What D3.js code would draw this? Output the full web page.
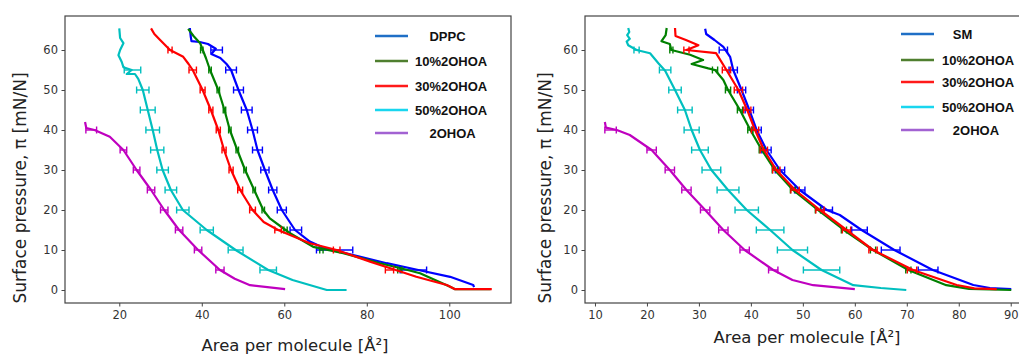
<!DOCTYPE html>
<html>
<head>
<meta charset="utf-8">
<script src="https://cdn.jsdelivr.net/npm/d3@7"></script>
<style>
  body { margin: 0; background: #fff; }
  text { font-family: "DejaVu Sans", sans-serif; }
</style>
</head>
<body>
<div id="chart"></div>
<script>
// ---- data: curves are [area, pi], error bars are [pi, area, halfwidth] ----
const legendLeft  = ['    DPPC', '10%2OHOA', '30%2OHOA', '50%2OHOA', '    2OHOA']
const legendRight = ['   SM', '10%2OHOA', '30%2OHOA', '50%2OHOA', '   2OHOA']

const xTicksLeft  = [20, 40, 60, 80, 100]
const xTicksRight = [10, 20, 30, 40, 50, 60, 70, 80, 90]
const yTicks = [0, 10, 20, 30, 40, 50, 60]

const dppcCurve = [[37.1,65.5],[37.3,63.5],[37.5,62.2],[39.5,62],[41.5,61.5],[43.4,60.3],[42.3,59],[44.5,58],[46,56.5],[47.1,55],[48.9,50],[50.9,45],[52.3,40],[53.5,35],[55.3,30],[57.2,25],[59.4,20],[62.6,15],[66.2,12.1],[69.9,10.4],[76.7,8.75],[84.8,6.7],[92.5,5],[100.2,3.3],[105.8,1.25],[106,0.7]]
const dppc10Curve = [[36.7,65.3],[38,63.5],[39.6,61.7],[41,58],[42,55],[44,50],[45.5,45],[46.8,40],[48.6,35],[50.5,30],[52.7,25],[54.9,20],[56.5,17.9],[60.3,15],[61.4,14.2],[67,10.8],[74.3,9.2],[83.2,6.7],[88,5.5],[92.9,4.2],[100.2,0.8],[101.4,0.2],[110,0.2]]
const dppc30Curve = [[27.7,65.4],[28.5,64],[29.9,62.5],[32.3,60],[35.5,58.3],[36.8,56.5],[37.8,55],[40.2,50],[42.2,45],[44,40],[45.4,35],[47.1,30],[49.3,25],[52.3,20],[55,17],[58.5,15],[61.4,13.75],[66.2,11.7],[72.7,10],[80.8,7.1],[87,5],[92,3.3],[99.4,1.25],[101.4,0.2],[110.3,0.2]]
const dppc50Curve = [[20,65.4],[20.2,63],[21,61.7],[20.2,60],[19.8,58.7],[20.6,57],[21,55.7],[23,55],[21.8,54],[23.8,54],[24.6,52.8],[25.7,50],[26.9,45],[28.1,40],[29.2,35],[30.5,30],[32.5,25],[35.4,20],[41.2,15],[48.2,10],[56.1,5],[62,2.5],[70.3,0],[75.1,0]]
const ohoaCurveL = [[11.7,42],[12,40.5],[14,40],[17.7,38.3],[21,35],[24.2,30],[27.7,25],[30.9,20],[34.5,15],[39.1,10],[44.4,5],[48,2.8],[51.7,1.2],[60.2,0.2]]

const dppcErr = [[60,43.6,1.4],[55,47.1,1.3],[50,48.9,1.2],[45,50.9,1.3],[40,52.3,1.2],[35,53.5,1.2],[30,55.3,1],[25,57.2,1],[20,59.4,1.1],[15,62.8,1.4],[10,72.2,4.4],[5,91.3,3.2]]
const dppc10Err = [[60,40,0.3],[55,42,0.3],[50,44,0.3],[45,45.5,0.3],[40,46.8,0.3],[35,48.6,0.3],[30,50.5,0.3],[25,52.7,0.3],[20,54.9,0.3],[15,60.3,0.4],[10,69,0.4],[5,88,0.5]]
const dppc30Err = [[60,32.3,0.5],[55,37.8,0.9],[50,40.2,0.6],[45,42.2,0.5],[40,44,0.5],[35,45.4,0.5],[30,47.1,0.5],[25,49.3,0.6],[20,52.3,0.7],[15,58.5,0.8],[10,72.7,0.8],[5,85.5,1]]
const dppc50Err = [[55,23.2,2],[50,25.7,1.5],[45,26.9,1.8],[40,28.1,1.65],[35,29.2,1.6],[30,30.5,1.4],[25,32.5,1.4],[20,35.4,1.5],[15,41.2,1.6],[10,48.2,1.8],[5,56.1,2]]
const ohoaErrL = [[40,13.2,1.3],[35,21,0.8],[30,24.2,0.8],[25,27.7,0.9],[20,30.9,0.9],[15,34.5,0.9],[10,39.1,0.9],[5,44.4,1]]

const smCurve = [[31.2,65.3],[31.4,64],[33,62.5],[34.7,60.8],[36,58.3],[36.6,55],[38.2,50],[39.7,45],[41.1,40],[43,35],[45.6,30],[49.4,25],[54.6,20],[57.1,18.75],[61.3,15],[67.6,10],[75,5],[82.8,1.25],[86,0.5],[90.1,0.2]]
const sm10Curve = [[23.8,65.5],[23.6,63.7],[22.8,62.2],[24.4,61.5],[24.7,60],[28.3,58.8],[30.8,57.5],[28.6,56.5],[31.8,55.4],[33.1,55],[34.7,52.5],[35.6,50],[37.9,45],[39.9,40],[42.1,35],[44.6,30],[48.1,25],[52.9,20],[57.9,15],[63.5,10],[70.3,5],[77.6,1.2],[82,0.3],[90.1,0]]
const sm30Curve = [[25.4,65.5],[25.5,63.5],[27.5,62.5],[29.9,61.2],[27.6,60],[33.3,59.2],[35.3,55],[37.6,50],[39.3,45],[40.8,40],[42.5,35],[44.9,30],[48.5,25],[53.3,20],[58.4,15],[63.5,10],[71.2,5],[79.6,1.25],[83,0.4],[87.3,0.2]]
const sm50Curve = [[16.4,65.5],[16.6,64.5],[16.2,63.7],[16.7,62.8],[16.1,62.1],[16.4,61.2],[18,60],[20.6,59.2],[22.2,56.7],[23.5,54.8],[25.4,50],[27.3,45],[28.6,40],[30.2,35],[32.4,30],[35.6,25],[39.2,20],[43.7,15],[48,10],[53.6,5],[59.7,1.2],[65,0.5],[69.9,0]]
const ohoaCurveR = [[11.9,42],[12.1,40.6],[14.2,40],[16.7,38.75],[20.9,35],[24.4,30],[27.6,25],[31.2,20],[34.7,15],[38.8,10],[44.3,5],[48,2.5],[52,1.2],[60,0.2]]

const smErr = [[60,34.7,0.8],[55,36.6,0.8],[50,38.2,0.8],[45,39.7,0.8],[40,41.1,0.9],[35,43,0.9],[30,45.6,0.9],[25,49.4,1],[20,54.6,1.1],[15,60.9,1.5],[10,66.9,1.8],[5,74.1,1.9]]
const sm10Err = [[60,24.7,0.3],[55,33.1,0.5],[50,35.6,0.5],[45,37.9,0.5],[40,39.9,0.5],[35,42.1,0.5],[30,44.6,0.5],[25,48.1,0.5],[20,52.9,0.5],[15,57.9,0.5],[10,63.5,0.5],[5,70.3,0.5]]
const sm30Err = [[60,27.6,0.5],[55,35.3,0.8],[50,37.6,0.8],[45,39.3,0.7],[40,40.8,0.7],[35,42.5,0.7],[30,44.9,0.7],[25,48.5,0.8],[20,53.3,0.8],[15,58.4,0.8],[10,63.5,0.8],[5,71,0.9]]
const sm50Err = [[60,18,0.5],[55,23.5,1.1],[50,25.4,1.2],[45,27.3,1.4],[40,28.6,1.45],[35,30.2,1.6],[30,32.4,1.8],[25,35.6,2.1],[20,39.2,2.25],[15,43.7,2.65],[10,48,2.9],[5,53.6,3.5]]
const ohoaErrR = [[40,13,1.1],[35,20.9,0.9],[30,24.4,0.9],[25,27.6,0.9],[20,31.2,0.9],[15,34.7,0.9],[10,38.8,0.9],[5,44.3,0.9]]

// line colours (matplotlib b g r c m) and legend swatch colours
const lineColors   = ['#0000ff', '#008000', '#ff0000', '#00bfbf', '#bf00bf']
const legendColors = ['#1f6fc6', '#4f7f2f', '#ff1a1a', '#19d6ef', '#a262d2']

let width = 1019, height = 354

let svg = d3.select('#chart')
            .append('svg')
                .attr('width', width)
                .attr('height', height)

function makePanel(p) {
    let x = d3.scaleLinear().domain(p.xDomain).range([p.left, p.left + 446])
    let y = d3.scaleLinear().domain([-3.25, 68.5]).range([303, 16])
    let g = svg.append('g')

    // axes (ticks outward, matplotlib-like)
    let xAxis = d3.axisBottom(x).tickValues(p.xTicks).tickSize(3.5).tickPadding(4)
    let yAxis = d3.axisLeft(y).tickValues(yTicks).tickSize(3.5).tickPadding(3.5)
    g.append('g').attr('transform', 'translate(0,303)').call(xAxis)
    g.append('g').attr('transform', 'translate(' + p.left + ',0)').call(yAxis)
    g.selectAll('.domain').remove()
    g.selectAll('.tick line').attr('stroke', '#444')
    g.selectAll('.tick text').attr('fill', '#333').style('font-size', '11.5px')

    // frame
    g.append('rect')
        .attr('x', p.left).attr('y', 16)
        .attr('width', 446).attr('height', 287)
        .attr('fill', 'none').attr('stroke', '#444').attr('stroke-width', 1.2)

    let line = d3.line().x(d => x(d[0])).y(d => y(d[1]))

    p.curves.forEach((c, i) => {
        g.append('path')
            .datum(c)
            .attr('d', line)
            .attr('fill', 'none')
            .attr('stroke', lineColors[i])
            .attr('stroke-width', 2.2)
            .attr('stroke-linejoin', 'round')
        let eb = g.selectAll(null).data(p.errors[i]).enter().append('g')
            .attr('stroke', lineColors[i]).attr('stroke-width', 1.4)
        eb.append('line')
            .attr('x1', d => x(d[1] - d[2])).attr('x2', d => x(d[1] + d[2]))
            .attr('y1', d => y(d[0])).attr('y2', d => y(d[0]))
        eb.append('line')
            .attr('x1', d => x(d[1] - d[2])).attr('x2', d => x(d[1] - d[2]))
            .attr('y1', d => y(d[0]) - 3.5).attr('y2', d => y(d[0]) + 3.5)
        eb.append('line')
            .attr('x1', d => x(d[1] + d[2])).attr('x2', d => x(d[1] + d[2]))
            .attr('y1', d => y(d[0]) - 3.5).attr('y2', d => y(d[0]) + 3.5)
    })

    // legend
    p.legend.forEach((name, i) => {
        let ly = p.legendY[i]
        g.append('line')
            .attr('x1', p.legendX).attr('x2', p.legendX + 33)
            .attr('y1', ly).attr('y2', ly)
            .attr('stroke', legendColors[i]).attr('stroke-width', 2.6)
        g.append('text')
            .attr('x', p.legendTextX).attr('y', ly)
            .attr('dy', '0.35em')
            .style('white-space', 'pre')
            .style('font-family', '"Liberation Sans", Arial, sans-serif')
            .style('font-weight', 'bold')
            .style('font-size', '13px')
            .attr('fill', '#111')
            .text(name)
    })

    // axis labels
    g.append('text')
        .attr('transform', 'translate(' + p.yLabelX + ',188) rotate(-90)')
        .attr('text-anchor', 'middle')
        .attr('dy', '0.35em')
        .style('font-size', '17px')
        .attr('fill', '#222')
        .text('Surface pressure, π [mN/N]')
    g.append('text')
        .attr('x', p.xLabelX).attr('y', p.xLabelY)
        .attr('text-anchor', 'middle')
        .style('font-size', '16.5px')
        .attr('fill', '#222')
        .text('Area per molecule [Å²]')
}

makePanel({
    left: 65, xDomain: [6.84, 114.96], xTicks: xTicksLeft,
    curves: [dppcCurve, dppc10Curve, dppc30Curve, dppc50Curve, ohoaCurveL],
    errors: [dppcErr, dppc10Err, dppc30Err, dppc50Err, ohoaErrL],
    legend: legendLeft, legendX: 375, legendTextX: 415,
    legendY: [36, 61, 86, 110, 133],
    yLabelX: 20, xLabelX: 295, xLabelY: 351
})

makePanel({
    left: 585, xDomain: [8.08, 93.9], xTicks: xTicksRight,
    curves: [smCurve, sm10Curve, sm30Curve, sm50Curve, ohoaCurveR],
    errors: [smErr, sm10Err, sm30Err, sm50Err, ohoaErrR],
    legend: legendRight, legendX: 901, legendTextX: 942,
    legendY: [34, 60, 82, 107, 130],
    yLabelX: 545, xLabelX: 807, xLabelY: 343
})
</script>
</body>
</html>
